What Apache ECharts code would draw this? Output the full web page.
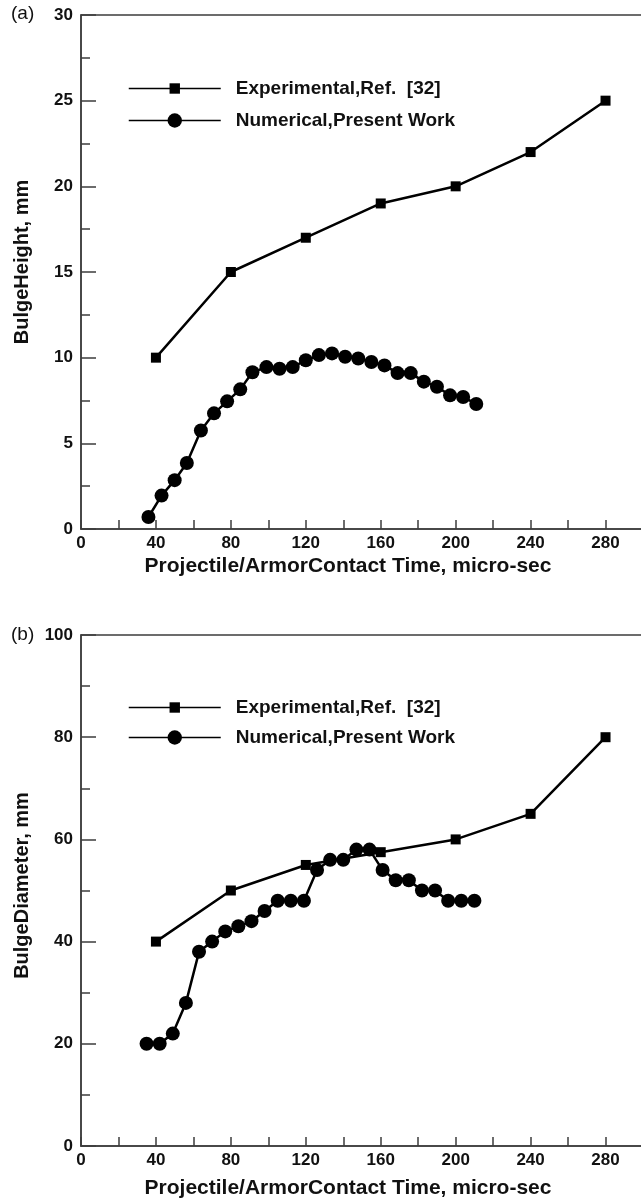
<!DOCTYPE html>
<html><head><meta charset="utf-8">
<script src="https://cdn.jsdelivr.net/npm/echarts@6/dist/echarts.min.js"></script>
<style>html,body{margin:0;padding:0;background:#fff}#c{width:641px;height:1200px}</style>
</head><body><div id="c"></div>
<script>
// ---- data ----
const xLabelValues = [0, 40, 80, 120, 160, 200, 240, 280];
const timeExpA = [40, 80, 120, 160, 200, 240, 280];
const heightExp = [10, 15, 17, 19, 20, 22, 25];
const timeNumA = [36, 43, 50, 56.5, 64, 71, 78, 85, 91.5, 99, 106, 113, 120, 127, 134, 141, 148, 155, 162, 169, 176, 183, 190, 197, 204, 211];
const heightNum = [0.7, 1.95, 2.85, 3.85, 5.75, 6.75, 7.45, 8.15, 9.15, 9.45, 9.35, 9.45, 9.85, 10.15, 10.25, 10.05, 9.95, 9.75, 9.55, 9.1, 9.1, 8.6, 8.3, 7.8, 7.7, 7.3];
const timeExpB = [40, 80, 120, 160, 200, 240, 280];
const diamExp = [40, 50, 55, 57.5, 60, 65, 80];
const timeNumB = [35, 42, 49, 56, 63, 70, 77, 84, 91, 98, 105, 112, 119, 126, 133, 140, 147, 154, 161, 168, 175, 182, 189, 196, 203, 210];
const diamNum = [20, 20, 22, 28, 38, 40, 42, 43, 44, 46, 48, 48, 48, 54, 56, 56, 58, 58, 54, 52, 52, 50, 50, 48, 48, 48];
const seriesNames = ['Experimental,Ref.  [32]', 'Numerical,Present Work'];
const xTitle = 'Projectile/ArmorContact Time, micro-sec';
const yTitles = ['BulgeHeight, mm', 'BulgeDiameter, mm'];

const pairs = (xs, ys) => xs.map((x, i) => [x, ys[i]]);
const FONT = '"Liberation Sans", Arial, sans-serif';
const AX = '#3c3c3c';

function xAxis(gi, gap) {
  return {
    type: 'value', gridIndex: gi, min: 0, max: 300, interval: 20,
    axisLine: { show: true, lineStyle: { color: AX, width: 1.5 } },
    axisTick: { show: true, inside: true, length: 9, lineStyle: { color: AX, width: 1.5 } },
    splitLine: { show: false },
    axisLabel: { margin: 6, color: '#111', fontFamily: FONT, fontWeight: 'bold', fontSize: 17,
      formatter: v => xLabelValues.indexOf(v) >= 0 ? String(v) : '' },
    name: xTitle, nameLocation: 'middle', nameGap: gap,
    nameTextStyle: { color: '#111', fontFamily: FONT, fontWeight: 'bold', fontSize: 21, padding: [0, 28, 0, 0] }
  };
}
function yAxis(gi, max, interval, name, shift) {
  return {
    type: 'value', gridIndex: gi, min: 0, max: max, interval: interval,
    axisLine: { show: true, lineStyle: { color: AX, width: 1.5 } },
    axisTick: { show: true, inside: true, length: 15, lineStyle: { color: AX, width: 1.5 } },
    minorTick: { show: true, splitNumber: 2, length: 9, lineStyle: { color: AX, width: 1.5 } },
    splitLine: { show: false },
    axisLabel: { margin: 8, color: '#111', fontFamily: FONT, fontWeight: 'bold', fontSize: 17 },
    name: name, nameLocation: 'middle', nameGap: 49,
    nameTextStyle: { color: '#111', fontFamily: FONT, fontWeight: 'bold', fontSize: 20, padding: [0, 0, 0, shift] }
  };
}
function line(name, xi, data, symbol, size) {
  return {
    name: name, type: 'line', xAxisIndex: xi, yAxisIndex: xi, data: data,
    symbol: symbol, symbolSize: size, showAllSymbol: true,
    lineStyle: { color: '#000', width: 2.5 }, itemStyle: { color: '#000' },
    emphasis: { disabled: true }, animation: false, z: symbol === 'circle' ? 3 : 4
  };
}
function legend(name, top, h) {
  return {
    data: [name], left: 128, top: top, orient: 'vertical', padding: 0,
    itemWidth: 92, itemHeight: h,
    lineStyle: { width: 1.5, color: '#000' },
    textStyle: { color: '#111', fontFamily: FONT, fontWeight: 'bold', fontSize: 19, padding: [0, 0, 0, 10] },
    selectedMode: false
  };
}

const chart = echarts.init(document.getElementById('c'), null, { renderer: 'canvas' });
chart.setOption({
  backgroundColor: '#fff',
  animation: false,
  grid: [
    { left: 81, top: 15, width: 562, height: 514, show: true, borderColor: AX, borderWidth: 1.5, containLabel: false, outerBoundsMode: 'none' },
    { left: 81, top: 635, width: 562, height: 511, show: true, borderColor: AX, borderWidth: 1.5, containLabel: false, outerBoundsMode: 'none' }
  ],
  xAxis: [xAxis(0, 27), xAxis(1, 32)],
  yAxis: [yAxis(0, 30, 5, yTitles[0], 20), yAxis(1, 100, 20, yTitles[1], 10)],
  legend: [
    legend(seriesNames[0], 79, 13),
    legend(seriesNames[1], 111, 18),
    legend(seriesNames[0], 698, 13),
    legend(seriesNames[1], 728, 18)
  ],
  graphic: [
    { type: 'text', left: 11, top: 4, style: { text: '(a)', font: '19px ' + FONT, fill: '#111' } },
    { type: 'text', left: 11, top: 625, style: { text: '(b)', font: '19px ' + FONT, fill: '#111' } }
  ],
  series: [
    line(seriesNames[0], 0, pairs(timeExpA, heightExp), 'rect', 10),
    line(seriesNames[1], 0, pairs(timeNumA, heightNum), 'circle', 14),
    line(seriesNames[0], 1, pairs(timeExpB, diamExp), 'rect', 10),
    line(seriesNames[1], 1, pairs(timeNumB, diamNum), 'circle', 14)
  ]
});
</script></body></html>
